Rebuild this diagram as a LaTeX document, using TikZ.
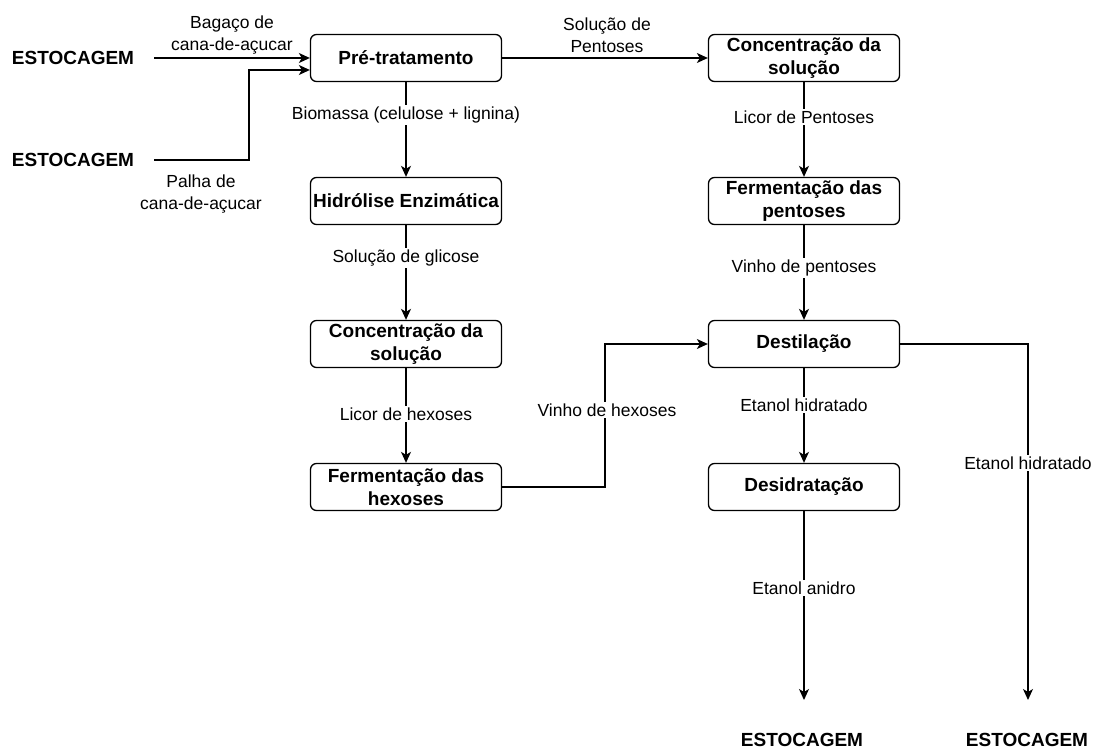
\documentclass[tikz,border=0pt]{standalone}
\usepackage{fontspec}
\setmainfont{Liberation Sans}
\usetikzlibrary{arrows.meta}

\begin{document}
\begin{tikzpicture}[x=1pt,y=-1pt,
   etapa/.style={draw,rounded corners=6pt,line width=1.3pt,minimum width=191pt,minimum height=47pt,
      inner sep=2pt,align=center,font=\fontsize{19}{23}\selectfont\bfseries},
   estoque/.style={inner sep=3pt,font=\fontsize{19}{23}\selectfont\bfseries},
   rotulo/.style={fill=white,inner sep=1.5pt,align=center,font=\fontsize{17.5}{22}\selectfont},
   fluxo/.style={line width=1.3pt,-{Stealth[length=11pt,width=10pt,inset=3pt]}}]
   \useasboundingbox (0,0) rectangle (1096,749);
   % estocagem de entrada
   \node[estoque] (est1) at (73,58) {ESTOCAGEM};
   \node[estoque] (est2) at (73,160) {ESTOCAGEM};
   % linha das hexoses
   \node[etapa] (pre) at (406,58) {Pré-tratamento};
   \node[etapa] (hid) at (406,201) {Hidrólise Enzimática};
   \node[etapa] (concH) at (406,344) {Concentração da\\solução};
   \node[etapa] (fermH) at (406,487) {Fermentação das\\hexoses};
   % linha das pentoses
   \node[etapa] (concP) at (804,58) {Concentração da\\solução};
   \node[etapa] (fermP) at (804,201) {Fermentação das\\pentoses};
   \node[etapa] (dest) at (804,344) {Destilação};
   \node[etapa] (desid) at (804,487) {Desidratação};
   % estocagem de saida
   \node[estoque] (est3) at (802,740) {ESTOCAGEM};
   \node[estoque] (est4) at (1027,740) {ESTOCAGEM};
   \coordinate (d1) at (249,100);
   \coordinate (d2) at (605,410);
   \coordinate (s3) at (804,700);
   \coordinate (s4) at (1028,700);

   \draw[fluxo] ([xshift=17pt]est1.east) -- (est1 -| pre.west);
   \draw[fluxo] ([xshift=17pt]est2.east) -| (d1) |- ([yshift=-12pt]pre.west);
   \draw[fluxo] (pre) -- (concP);
   \draw[fluxo] (pre) -- (hid);
   \draw[fluxo] (hid) -- (concH);
   \draw[fluxo] (concH) -- (fermH);
   \draw[fluxo] (fermH.east) -| (d2) |- (dest.west);
   \draw[fluxo] (concP) -- (fermP);
   \draw[fluxo] (fermP) -- (dest);
   \draw[fluxo] (dest) -- (desid);
   \draw[fluxo] (desid) -- (s3);
   \draw[fluxo] (dest.east) -| (s4);

   \node[rotulo,fill=none] (l1) at (232,35.5) {Bagaço de\\cana-de-açucar};
   \node[rotulo,fill=none] (l2) at (201,194) {Palha de\\cana-de-açucar};
   \node[rotulo,fill=none] (l3) at (607,35.5) {Solução de\\Pentoses};
   \node[rotulo] (l4) at (406,115) {Biomassa (celulose + lignina)};
   \node[rotulo] (l5) at (406,258) {Solução de glicose};
   \node[rotulo] (l6) at (406,414) {Licor de hexoses};
   \node[rotulo] (l7) at (607,410) {Vinho de hexoses};
   \node[rotulo] (l8) at (804,117) {Licor de Pentoses};
   \node[rotulo] (l9) at (804,268) {Vinho de pentoses};
   \node[rotulo] (l10) at (804,405) {Etanol hidratado};
   \node[rotulo] (l11) at (1028,463) {Etanol hidratado};
   \node[rotulo] (l12) at (804,588) {Etanol anidro};
\end{tikzpicture}
\end{document}
